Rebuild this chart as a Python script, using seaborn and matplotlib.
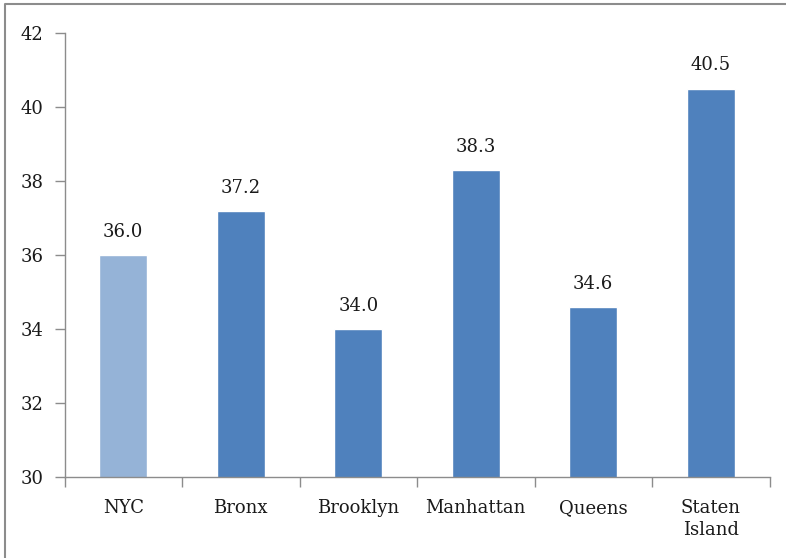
import numpy as np
import matplotlib
matplotlib.use('Agg')
import matplotlib.pyplot as plt
import seaborn as sns
import pandas as pd
from matplotlib.lines import Line2D

# Data
boroughs = ["NYC", "Bronx", "Brooklyn", "Manhattan", "Queens", "Staten\nIsland"]
values = [36.0, 37.2, 34.0, 38.3, 34.6, 40.5]
bar_colors = ["#95B3D7", "#4F81BD", "#4F81BD", "#4F81BD", "#4F81BD", "#4F81BD"]
y_ticks = [30, 32, 34, 36, 38, 40, 42]

df = pd.DataFrame({"borough": boroughs, "value": values})

sns.set_style("white")
plt.rcParams['font.family'] = ['DejaVu Serif']

W, H = 786, 558
fig = plt.figure(figsize=(W / 100, H / 100), dpi=100)
ax = fig.add_axes([64.5 / W, 1 - 477 / H, (769.5 - 64.5) / W, (477 - 33) / H])

sns.barplot(data=df, x="borough", y="value", hue="borough", palette=bar_colors,
            legend=False, width=0.41, ax=ax, saturation=1)

ax.set_ylim(30, 42)
ax.set_xlim(-0.5, len(boroughs) - 0.5)
ax.set_yticks(y_ticks)
ax.set_xlabel("")
ax.set_ylabel("")

# value labels
for i, v in enumerate(values):
    ax.text(i, v + 0.38, f"{v:.1f}", ha="center", va="bottom", fontsize=13, color="#1a1a1a")

# axis styling
sns.despine(ax=ax)
for s in ["left", "bottom"]:
    ax.spines[s].set_color("#8c8c8c")
    ax.spines[s].set_linewidth(1.0)

ax.tick_params(axis="y", direction="out", length=7, width=1, color="#8c8c8c",
               labelsize=13, labelcolor="#1a1a1a", pad=8, left=True)
ax.tick_params(axis="x", which="major", length=0, labelsize=13, labelcolor="#1a1a1a", pad=16)
ax.set_xticks(np.arange(-0.5, len(boroughs) + 0.5, 1), minor=True)
ax.tick_params(axis="x", which="minor", direction="out", length=7, width=1, color="#8c8c8c", bottom=True)
for lbl in ax.get_xticklabels():
    lbl.set_linespacing(1.3)

# outer frame (top and left only)
fig.add_artist(Line2D([5 / W, 5 / W, 1.0], [0.0, 1 - 4 / H, 1 - 4 / H],
                      transform=fig.transFigure, color="#8c8c8c", linewidth=1.5))

fig.savefig("out.png", dpi=100)
plt.close(fig)
